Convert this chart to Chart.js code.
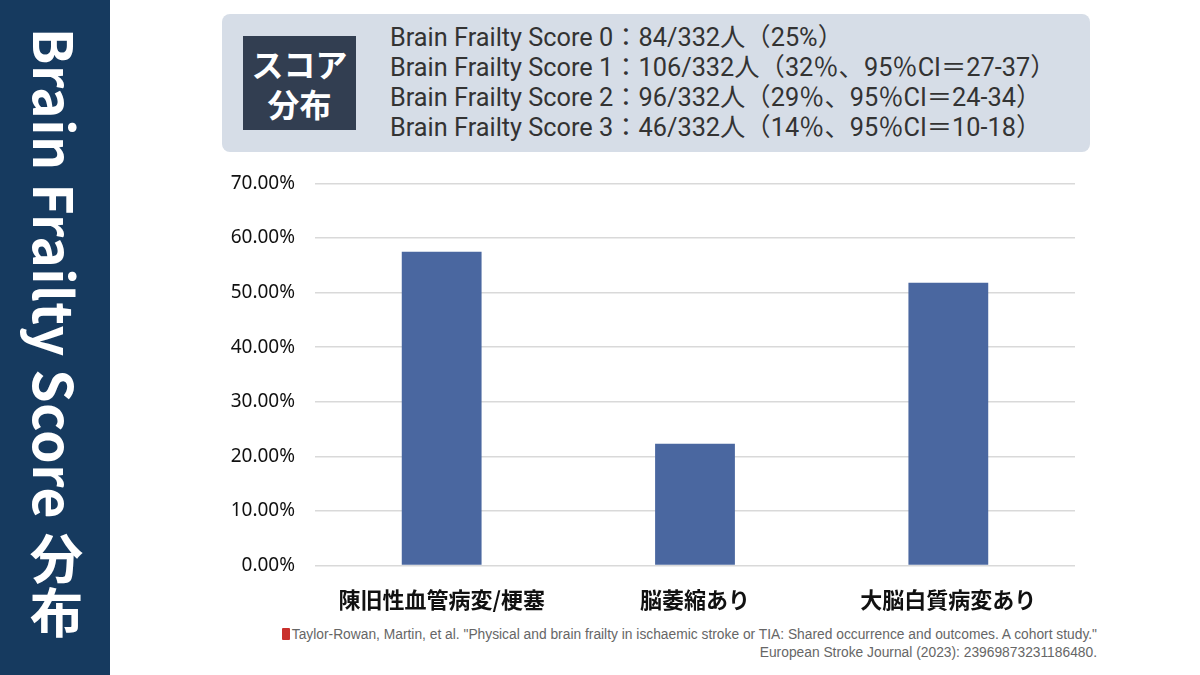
<!DOCTYPE html>
<html>
<head>
<meta charset="utf-8">
<script src="https://cdn.jsdelivr.net/npm/chart.js@4"></script>
<style>
  body { margin: 0; width: 1200px; height: 675px; background: #fff; position: relative; overflow: hidden;
         font-family: "Noto Sans CJK JP", "Noto Sans", sans-serif; }
  #side { position: absolute; left: 0; top: 0; width: 110px; height: 675px; background: #163a5f; }
  #side-title { position: absolute; left: 24px; top: 28px; writing-mode: vertical-rl; color: #fff;
                font-weight: 700; font-size: 53.5px; line-height: 64px; white-space: nowrap; letter-spacing: 0.5px; }
  #info { position: absolute; left: 222px; top: 14px; width: 868px; height: 138px; background: #d6dde7; border-radius: 8px; }
  #badge { position: absolute; left: 21px; top: 22px; width: 113px; height: 94px; background: #323e51; color: #fff;
           font-weight: 700; font-size: 32px; line-height: 40px; text-align: center; display: flex;
           flex-direction: column; justify-content: center; }
  #lines { position: absolute; left: 168px; top: 9px; color: #333; font-family: Roboto, "Noto Sans CJK JP", sans-serif;
           font-size: 25.3px; line-height: 30px; white-space: nowrap; }
  #wrap { position: absolute; left: 200px; top: 152px; width: 900px; height: 474px; }
  #cite { position: absolute; right: 103px; top: 626px; text-align: right; color: #666; font-family: "Liberation Sans", Arial, sans-serif;
          font-size: 13.8px; line-height: 17.5px; white-space: nowrap; }
  #cite .book { display: inline-block; width: 8px; height: 12px; background: #c9302c; margin-right: 2px; vertical-align: -1px; border-radius: 1px; }
</style>
</head>
<body>
<div id="side"><div id="side-title">Brain Frailty Score 分布</div></div>
<div id="info">
  <div id="badge"><div>スコア</div><div>分布</div></div>
  <div id="lines"></div>
</div>
<div id="wrap"><canvas id="myChart"></canvas></div>
<div id="cite"><span class="book"></span>Taylor-Rowan, Martin, et al. "Physical and brain frailty in ischaemic stroke or TIA: Shared occurrence and outcomes. A cohort study."<br>European Stroke Journal (2023): 23969873231186480.</div>
<script>
const categories = ['陳旧性血管病変/梗塞', '脳萎縮あり', '大脳白質病変あり'];
const shares = [57.5, 22.3, 51.8];
const yTicks = [0, 10, 20, 30, 40, 50, 60, 70];

const scoreLines = [
    'Brain Frailty Score 0：84/332人（25%）',
    'Brain Frailty Score 1：106/332人（32％、95％CI＝27-37）',
    'Brain Frailty Score 2：96/332人（29％、95％CI＝24-34）',
    'Brain Frailty Score 3：46/332人（14％、95％CI＝10-18）'
];
document.getElementById('lines').innerHTML = scoreLines.map(s => '<div>' + s + '</div>').join('');

const ctx = document.getElementById('myChart');
new Chart(ctx, {
    type: 'bar',
    data: {
        labels: categories,
        datasets: [{
            label: '割合',
            data: shares,
            backgroundColor: '#4a67a0',
            barPercentage: 0.63,
            categoryPercentage: 0.5
        }]
    },
    options: {
        responsive: true,
        maintainAspectRatio: false,
        animation: false,
        layout: { padding: { top: 4, right: 25, bottom: 0, left: 0 } },
        plugins: { legend: { display: false }, tooltip: { enabled: false } },
        scales: {
            x: {
                grid: { display: false },
                border: { display: false },
                ticks: {
                    color: '#111',
                    padding: 13,
                    font: { family: 'Noto Sans CJK JP', size: 22, weight: 'bold' }
                }
            },
            y: {
                min: 0,
                max: 70,
                afterBuildTicks: (axis) => { axis.ticks = yTicks.map(v => ({ value: v })); },
                afterFit: (axis) => { axis.width = 115; },
                grid: { color: '#d9d9d9', lineWidth: 1.5, drawTicks: false },
                border: { display: false },
                ticks: {
                    color: '#111',
                    padding: 20,
                    font: { family: 'Noto Sans', size: 19 },
                    callback: (v) => v.toFixed(2) + '%'
                }
            }
        }
    }
});
</script>
</body>
</html>
